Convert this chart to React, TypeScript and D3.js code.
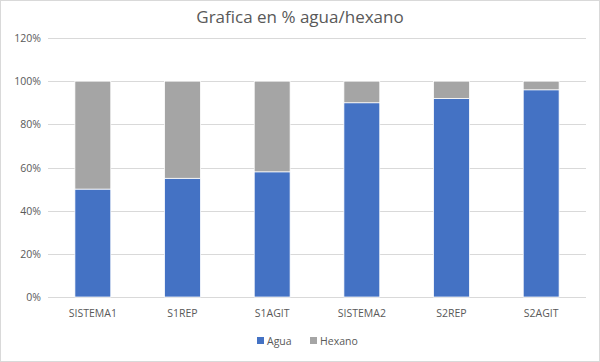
import React, { useRef, useEffect } from "react";
import * as d3 from "d3";

const categories = ["SISTEMA1", "S1REP", "S1AGIT", "SISTEMA2", "S2REP", "S2AGIT"];
const agua = [0.5, 0.55, 0.58, 0.9, 0.92, 0.96];
const hexano = [0.5, 0.45, 0.42, 0.1, 0.08, 0.04];
const yTicks = [0, 0.2, 0.4, 0.6, 0.8, 1.0, 1.2];
const seriesNames = ["Agua", "Hexano"];

const colors: Record<string, string> = { Agua: "#4472C4", Hexano: "#A5A5A5" };
const font = "'Open Sans', sans-serif";

const App = () => {
  const ref = useRef<SVGSVGElement>(null);

  useEffect(() => {
    const W = 600, H = 362;
    const svg = d3.select(ref.current);
    svg.selectAll("*").remove();
    svg.attr("width", W).attr("height", H);

    svg.append("rect")
      .attr("x", 0.5).attr("y", 0.5)
      .attr("width", W - 1).attr("height", H - 1)
      .attr("fill", "white").attr("stroke", "#D9D9D9");

    const x = d3.scaleBand().domain(categories).range([48, 586]).paddingInner(0.6).paddingOuter(0.3);
    const y = d3.scaleLinear().domain([0, 1.2]).range([297, 38]);

    // gridlines
    svg.append("g")
      .selectAll("line")
      .data(yTicks)
      .enter()
      .append("line")
      .attr("x1", 48).attr("x2", 586)
      .attr("y1", (d) => Math.round(y(d)) + 0.5)
      .attr("y2", (d) => Math.round(y(d)) + 0.5)
      .attr("stroke", "#D9D9D9").attr("stroke-width", 1);

    svg.append("g")
      .selectAll("text")
      .data(yTicks)
      .enter()
      .append("text")
      .attr("x", 41)
      .attr("y", (d) => y(d) + 4)
      .attr("text-anchor", "end")
      .attr("font-family", font).attr("font-size", 10.5)
      .attr("fill", "#595959")
      .text((d) => `${Math.round(d * 100)}%`);

    const rows = categories.map((c, i) => ({ cat: c, Agua: agua[i], Hexano: hexano[i] }));
    const stacked = d3.stack<any>().keys(seriesNames)(rows);

    const groups = svg.append("g")
      .selectAll("g")
      .data(stacked)
      .enter()
      .append("g")
      .attr("fill", (d) => colors[d.key]);

    groups.selectAll("rect")
      .data((d) => d)
      .enter()
      .append("rect")
      .attr("x", (d: any) => x(d.data.cat)!)
      .attr("width", x.bandwidth())
      .attr("y", (d) => y(d[1]))
      .attr("height", (d) => y(d[0]) - y(d[1]))
      .attr("stroke", "white")
      .attr("stroke-width", 0.75);

    // category labels
    svg.append("g")
      .selectAll("text")
      .data(categories)
      .enter()
      .append("text")
      .attr("x", (d) => x(d)! + x.bandwidth() / 2)
      .attr("y", 317)
      .attr("text-anchor", "middle")
      .attr("font-family", font).attr("font-size", 10.5)
      .attr("fill", "#595959")
      .text((d) => d);

    // title
    svg.append("text")
      .attr("x", 300).attr("y", 23)
      .attr("text-anchor", "middle")
      .attr("font-family", font).attr("font-size", 17)
      .attr("fill", "#595959")
      .text("Grafica en % agua/hexano");

    // legend
    const legendX = [257, 310];
    const lg = svg.append("g")
      .selectAll("g")
      .data(seriesNames)
      .enter()
      .append("g")
      .attr("transform", (d, i) => `translate(${legendX[i]}, 337)`);
    lg.append("rect")
      .attr("width", 7).attr("height", 7)
      .attr("fill", (d) => colors[d]);
    lg.append("text")
      .attr("x", 10).attr("y", 7.5)
      .attr("font-family", font).attr("font-size", 10.5)
      .attr("fill", "#595959")
      .text((d) => d);
  }, []);

  return (
    <>
      <style>{`body{margin:0}`}</style>
      <svg ref={ref}></svg>
    </>
  );
};

export default App;
